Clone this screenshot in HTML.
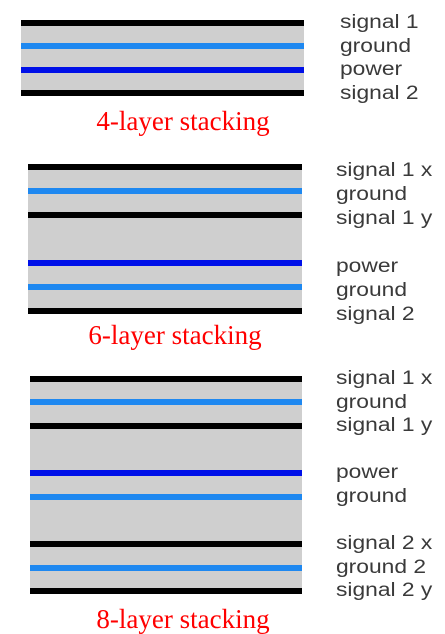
<!DOCTYPE html>
<html><head><style>
body{margin:0;width:445px;height:631px;background:#fff;position:relative;overflow:hidden;font-family:"Liberation Sans",Arial,sans-serif}
.g{position:absolute;background:#cfcfcf}
.l{position:absolute;height:6px}
.k{background:#000}.c{background:#1e88f0}.p{background:#0010e8}
.t{position:absolute;color:#3a3a3a;font-size:19px;line-height:19px;left:336px;transform:scaleX(1.2);transform-origin:left top;white-space:nowrap}
.r{position:absolute;color:#f00;font-family:"Liberation Serif",serif;font-size:27px;line-height:27px;width:300px;text-align:center}
</style></head><body>
<div class="g" style="left:21px;top:23px;width:283px;height:70px"></div>
<div class="l k" style="left:21px;width:283px;top:20px"></div>
<div class="l c" style="left:21px;width:283px;top:43px"></div>
<div class="l p" style="left:21px;width:283px;top:67px"></div>
<div class="l k" style="left:21px;width:283px;top:90px"></div>
<div class="t" style="left:340px;top:13px">signal 1</div>
<div class="t" style="left:340px;top:37px">ground</div>
<div class="t" style="left:340px;top:60px">power</div>
<div class="t" style="left:340px;top:84px">signal 2</div>
<div class="r" style="left:33px;top:108px">4-layer stacking</div>

<div class="g" style="left:28px;top:167px;width:274px;height:144px"></div>
<div class="l k" style="left:28px;width:274px;top:164px"></div>
<div class="l c" style="left:28px;width:274px;top:188px"></div>
<div class="l k" style="left:28px;width:274px;top:212px"></div>
<div class="l p" style="left:28px;width:274px;top:260px"></div>
<div class="l c" style="left:28px;width:274px;top:284px"></div>
<div class="l k" style="left:28px;width:274px;top:308px"></div>
<div class="t" style="top:161px">signal 1 x</div>
<div class="t" style="top:185px">ground</div>
<div class="t" style="top:209px">signal 1 y</div>
<div class="t" style="top:257px">power</div>
<div class="t" style="top:281px">ground</div>
<div class="t" style="top:305px">signal 2</div>
<div class="r" style="left:25px;top:322px">6-layer stacking</div>

<div class="g" style="left:30px;top:379px;width:272px;height:212px"></div>
<div class="l k" style="left:30px;width:272px;top:376px"></div>
<div class="l c" style="left:30px;width:272px;top:399px"></div>
<div class="l k" style="left:30px;width:272px;top:423px"></div>
<div class="l p" style="left:30px;width:272px;top:470px"></div>
<div class="l c" style="left:30px;width:272px;top:494px"></div>
<div class="l k" style="left:30px;width:272px;top:541px"></div>
<div class="l c" style="left:30px;width:272px;top:565px"></div>
<div class="l k" style="left:30px;width:272px;top:588px"></div>
<div class="t" style="top:369px">signal 1 x</div>
<div class="t" style="top:393px">ground</div>
<div class="t" style="top:416px">signal 1 y</div>
<div class="t" style="top:463px">power</div>
<div class="t" style="top:487px">ground</div>
<div class="t" style="top:534px">signal 2 x</div>
<div class="t" style="top:558px">ground 2</div>
<div class="t" style="top:581px">signal 2 y</div>
<div class="r" style="left:33px;top:606px">8-layer stacking</div>
</body></html>
